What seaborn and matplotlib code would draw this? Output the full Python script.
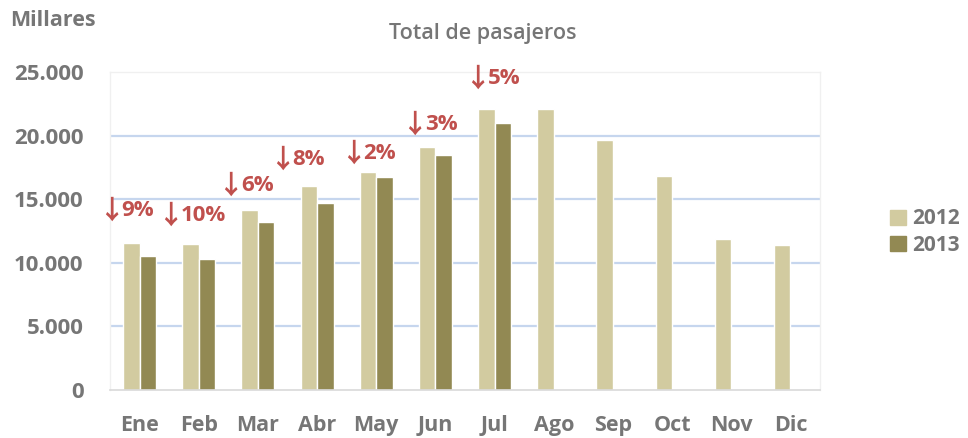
import matplotlib
matplotlib.use("Agg")
import matplotlib.pyplot as plt
import seaborn as sns
import pandas as pd

# data (thousands of passengers)
months = ["Ene", "Feb", "Mar", "Abr", "May", "Jun", "Jul", "Ago", "Sep", "Oct", "Nov", "Dic"]
pax_2012 = [11590, 11460, 14130, 16010, 17110, 19070, 22060, 22130, 19620, 16800, 11850, 11380]
pax_2013 = [10520, 10280, 13190, 14680, 16720, 18450, 20960]
drops = ["9%", "10%", "6%", "8%", "2%", "3%", "5%"]
y_ticks = [0, 5000, 10000, 15000, 20000, 25000]
y_tick_labels = ["0", "5.000", "10.000", "15.000", "20.000", "25.000"]

# where each drop label sits relative to its 2012 bar
# (x: arrow/number seam, in categories; y: in data units above the 2012 bar)
label_offsets = [(-0.31, 2540), (-0.30, 2280), (-0.29, 1960), (-0.42, 2120),
                 (-0.22, 1490), (-0.18, 1810), (-0.11, 2430)]

df = pd.concat([
    pd.DataFrame({"mes": months, "pasajeros": pax_2012, "año": "2012"}),
    pd.DataFrame({"mes": months[:len(pax_2013)], "pasajeros": pax_2013, "año": "2013"}),
])

sns.set_theme(style="white")
plt.rcParams["font.family"] = ["Open Sans", "DejaVu Sans"]

grey = "#767676"
red = "#C0504D"
palette = {"2012": "#D2CBA0", "2013": "#928953"}

fig = plt.figure(figsize=(9.68, 4.38), dpi=100)
ax = fig.add_axes([110 / 968, 48 / 438, 710 / 968, 318 / 438])

sns.barplot(data=df, x="mes", y="pasajeros", hue="año", order=months,
            hue_order=["2012", "2013"], palette=palette, width=0.56,
            saturation=1, ax=ax, legend=False)

ax.set_xlim(-0.5, 11.5)
ax.set_ylim(0, 25000)
ax.set_yticks(y_ticks)
ax.set_yticklabels(y_tick_labels)
ax.set_xlabel("")
ax.set_ylabel("")

for y in y_ticks[1:-1]:
    ax.axhline(y, color="#C6D6EE", lw=1.6, zorder=0)

for side in ["left", "right", "top"]:
    ax.spines[side].set_color("#F0F0F0")
    ax.spines[side].set_linewidth(1.0)
ax.spines["bottom"].set_color("#D9D9D9")
ax.spines["bottom"].set_linewidth(1.2)

ax.tick_params(axis="y", length=0, pad=19, labelsize=16, labelcolor=grey)
ax.tick_params(axis="x", which="major", length=0, pad=18, labelsize=15.5, labelcolor=grey)
ax.set_xticks([i - 0.5 for i in range(13)], minor=True)
ax.tick_params(axis="x", which="minor", length=6, width=1, color="#D9D9D9", direction="out")
for lab in ax.get_xticklabels() + ax.get_yticklabels():
    lab.set_fontweight("bold")

for i, (txt, (dx, dy)) in enumerate(zip(drops, label_offsets)):
    x, y = i + dx, pax_2012[i] + dy
    ax.annotate("\u2193", (x, y), xytext=(2, -0.5), textcoords="offset points",
                ha="right", va="center", fontsize=19, fontweight="bold", color=red,
                family="Noto Sans CJK SC")
    ax.annotate(txt, (x, y), xytext=(0, 0), textcoords="offset points",
                ha="left", va="center", fontsize=16, fontweight="bold", color=red)

fig.text(10 / 968, 1 - 20 / 438, "Millares", ha="left", va="center",
         fontsize=15.5, fontweight="bold", color=grey)
fig.text(483 / 968, 1 - 33 / 438, "Total de pasajeros", ha="center", va="center",
         fontsize=15.5, fontweight="semibold", color=grey)

handles = [plt.Rectangle((0, 0), 1, 1, color=palette[k]) for k in ["2012", "2013"]]
leg = fig.legend(handles, ["2012", "2013"], loc="center left",
                 bbox_to_anchor=(890 / 968, 1 - 232 / 438), frameon=False,
                 borderpad=0, borderaxespad=0,
                 handlelength=0.75, handleheight=0.75, handletextpad=0.3,
                 labelspacing=0.25, fontsize=15)
for t in leg.get_texts():
    t.set_color(grey)
    t.set_fontweight("bold")

fig.savefig("out.png", dpi=100)
